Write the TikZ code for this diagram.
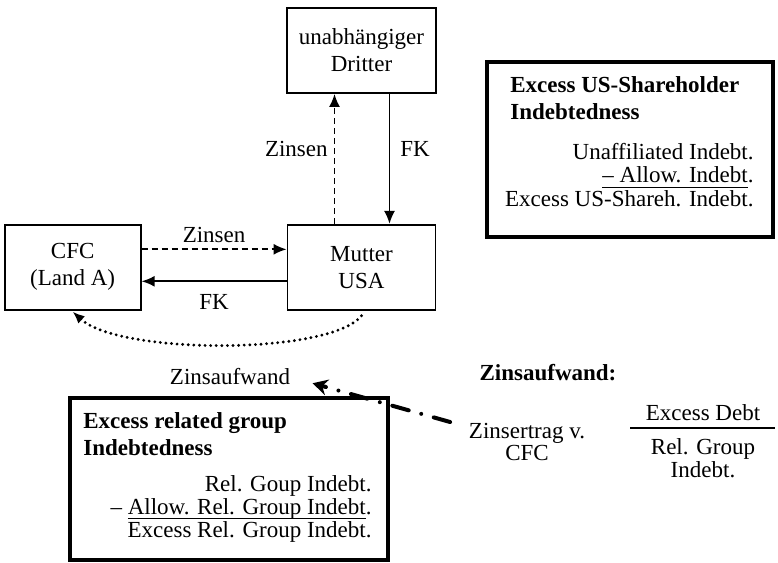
\documentclass[tikz,border=0pt]{standalone}
\usepackage{fontspec}
\setmainfont{Liberation Serif}
\usetikzlibrary{arrows.meta, positioning}
\newcommand\strich[1]{\setbox0=\hbox{#1}\leavevmode\rlap{\rule[-2.3pt]{\wd0}{0.5pt}}\box0}

\begin{document}
\begin{tikzpicture}[
    x=0.5pt, y=-0.5pt,
    every node/.style={font=\fontsize{11.5}{13.5}\selectfont},
    party/.style={rectangle, draw, line width=0.9pt, align=center,
                  minimum height=42.5pt, inner sep=0pt},
    calcbox/.style={rectangle, draw, line width=1.7pt, inner sep=0pt},
    ttl/.style={font=\fontsize{11.5}{13.5}\selectfont\bfseries, align=left, inner sep=0pt},
    calc/.style={font=\fontsize{11.5}{11.7}\selectfont, align=right, inner sep=0pt},
    tight/.style={font=\fontsize{11.5}{10}\selectfont, align=center, inner sep=0pt},
    arr/.style={-{Latex[length=6.5pt, width=5.5pt]}, line width=0.9pt},
    dasharr/.style={arr, dash pattern=on 3pt off 2pt},
    dotarr/.style={-{Latex[length=6pt, width=5pt]}, line width=1.6pt,
                   line cap=round, dash pattern=on 0pt off 2.8pt},
    dotdash/.style={-{Stealth[length=7.5pt, width=8pt, inset=2.5pt]}, line width=2pt,
                    line cap=round, dash pattern=on 8.5pt off 6.5pt on 0pt off 6.5pt},
    lbl/.style={inner sep=2pt}
]
    \useasboundingbox (0,0) rectangle (778,563);

    % parties
    \node[party, minimum width=74.5pt] (dritter) at (361.5,50.5) {unabhängiger\\Dritter};
    \node[party, minimum width=74pt, below=65pt of dritter] (mutter) {Mutter\\USA};
    \node[party, minimum width=68pt, left=72.5pt of mutter] (cfc) {CFC\\(Land A)};

    \draw[dasharr] ([xshift=-13.5pt]mutter.north) -- ([xshift=-13.5pt]dritter.south)
        node[lbl, pos=0.58, left=1pt] (zinsenv) {Zinsen};
    \draw[arr] ([xshift=14pt]dritter.south) -- ([xshift=14pt]mutter.north)
        node[lbl, pos=0.42, right=3pt] (fkv) {FK};
    \draw[dasharr] ([yshift=9pt]cfc.east) -- ([yshift=9pt]mutter.west)
        node[lbl, midway, above=1pt] (zinsenh) {Zinsen};
    \draw[arr] ([yshift=-7pt]mutter.west) -- ([yshift=-7pt]cfc.east)
        node[lbl, midway, below=4pt] (fkh) {FK};
    \draw[dotarr] ([yshift=-2.5pt]mutter.south) .. controls (330,355) and (120,355) .. ([yshift=-0.5pt]cfc.south);

    % excess US-shareholder indebtedness
    \node[calcbox, minimum width=143pt, minimum height=87.5pt] (usbox) at (630,149.5) {};
    \node[ttl, anchor=west] (usttl) at (510,98.5) {Excess US-Shareholder\\Indebtedness};
    \node[calc, anchor=east] (uscalc) at (754,175)
        {Unaffiliated Indebt.\\\strich{-- Allow. Indebt}.\\Excess US-Shareh. Indebt.};

    % excess related group indebtedness
    \node[calcbox, minimum width=159pt, minimum height=81pt] (rgbox) at (229,479) {};
    \node[ttl, anchor=west] (rgttl) at (83,434.5) {Excess related group\\Indebtedness};
    \node[calc, anchor=east] (rgcalc) at (372,509)
        {Rel. Goup Indebt.\\-- \strich{Allow. Rel. Group Indebt}.\\Excess Rel. Group Indebt.};

    % Zinsaufwand formula
    \node[inner sep=0pt] (zaufw) at (230,377) {Zinsaufwand};
    \node[inner sep=0pt, font=\fontsize{11.5}{13.5}\selectfont\bfseries] (zformel) at (548,373) {Zinsaufwand:};
    \node[tight] (ertrag) at (527,442) {Zinsertrag v.\\CFC};
    \node[inner sep=0pt] (exdebt) at (703,413) {Excess Debt};
    \node[tight] (relgrp) at (703,458) {Rel. Group\\Indebt.};
    \coordinate (barL) at (630,428);
    \coordinate (barR) at (775,428);
    \draw[line width=0.7pt] (barL) -- (barR);

    \draw[dotdash, shorten >=11.5pt] ([shift={(-9.25pt,10pt)}]ertrag.west) -- (zaufw.east);
\end{tikzpicture}
\end{document}
